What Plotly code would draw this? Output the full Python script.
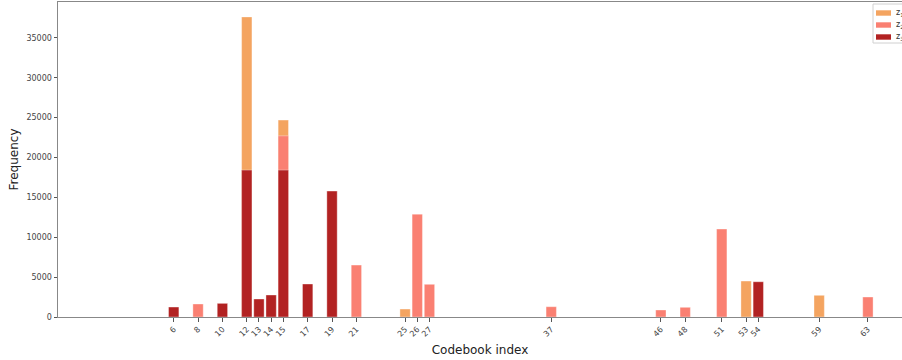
import plotly.graph_objects as go

# Codebook indices and frequencies per series (overlaid bars)
idx_a = [12, 15, 25, 53, 59]
val_a = [37630, 24690, 1000, 4510, 2720]

idx_b = [8, 15, 21, 26, 27, 37, 46, 48, 51, 63]
val_b = [1630, 22720, 6515, 12900, 4100, 1290, 880, 1215, 11030, 2506]

idx_c = [6, 10, 12, 13, 14, 15, 17, 19, 54]
val_c = [1250, 1710, 18420, 2255, 2757, 18420, 4135, 15790, 4420]

names = ["z<sub>1</sub>", "z<sub>2</sub>", "z<sub>3</sub>"]
colors = ["#F4A460", "#FA8072", "#B22222"]

tick_vals = sorted(set(idx_a + idx_b + idx_c))
y_ticks = [0, 5000, 10000, 15000, 20000, 25000, 30000, 35000]

W, H = 902, 360
L, R, T, B = 58, 0, 2, 43
PW, PH = W - L - R, H - T - B


def px_x(px):
    return (px - L) / PW


def px_y(py):
    return (H - B - py) / PH


fig = go.Figure()
for xs, ys, nm, col in [(idx_a, val_a, names[0], colors[0]),
                        (idx_b, val_b, names[1], colors[1]),
                        (idx_c, val_c, names[2], colors[2])]:
    fig.add_trace(go.Bar(x=xs, y=ys, name=nm, width=0.85,
                         marker=dict(color=col, line=dict(width=0.6, color="rgba(255,255,255,0.6)"))))

# Legend box (cropped at the right edge, as in the reference)
shapes = [dict(type="rect", xref="paper", yref="paper",
               x0=px_x(873), x1=px_x(940), y0=px_y(43), y1=px_y(4),
               line=dict(color="#d0d0d0", width=1), fillcolor="rgba(255,255,255,0.85)", layer="above")]
annotations = []
for i, (nm, col) in enumerate(zip(names, colors)):
    c = 13 + 12 * i
    shapes.append(dict(type="rect", xref="paper", yref="paper",
                       x0=px_x(876), x1=px_x(891), y0=px_y(c + 2.7), y1=px_y(c - 2.7),
                       line=dict(width=0), fillcolor=col, layer="above"))
    annotations.append(dict(xref="paper", yref="paper", x=px_x(894), y=px_y(c),
                            xanchor="left", yanchor="middle", showarrow=False,
                            text=nm, font=dict(size=8, color="#333")))

fig.update_layout(
    width=W, height=H,
    barmode="overlay",
    plot_bgcolor="white", paper_bgcolor="white",
    margin=dict(l=L, r=R, t=T, b=B, autoexpand=False),
    font=dict(family="DejaVu Sans", color="#333"),
    showlegend=False,
    shapes=shapes,
    annotations=annotations,
    xaxis=dict(range=[-3.5, 65.8], tickmode="array", tickvals=tick_vals,
               ticktext=[str(v) for v in tick_vals], tickangle=-45,
               tickfont=dict(size=8, color="#444"),
               ticks="outside", ticklen=3.5, tickcolor="#555",
               showline=True, linecolor="#888", linewidth=1, mirror=True,
               showgrid=False, zeroline=False, automargin=False,
               title=dict(text="Codebook index", font=dict(size=12, color="#222"), standoff=8)),
    yaxis=dict(range=[0, 39500], tickmode="array", tickvals=y_ticks,
               ticktext=[str(v) for v in y_ticks],
               tickfont=dict(size=8, color="#444"),
               ticks="outside", ticklen=3.5, tickcolor="#555",
               showline=True, linecolor="#888", linewidth=1,
               showgrid=False, zeroline=False, automargin=False,
               title=dict(text="Frequency", font=dict(size=12, color="#222"), standoff=5)),
)

fig.write_html("out.html", config={"displayModeBar": False},
               post_script="document.body.style.margin='0';")
